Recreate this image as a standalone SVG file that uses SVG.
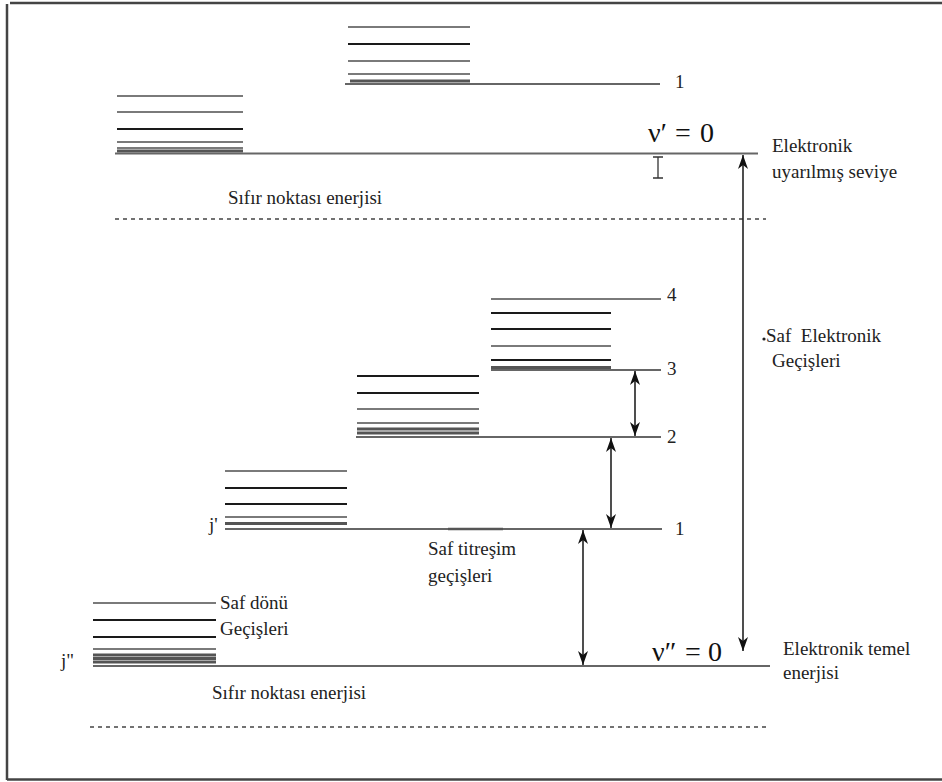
<svg xmlns="http://www.w3.org/2000/svg" width="942" height="782" viewBox="0 0 942 782">
<defs>
<marker id="ah" markerUnits="userSpaceOnUse" markerWidth="14" markerHeight="10" refX="14" refY="5" orient="auto-start-reverse">
<path d="M0,0 L14,5 L0,10 L4,5 z" fill="#111"/>
</marker>
<style>
.g{stroke:#7a7a7a;stroke-width:2.2;fill:none}
.k{stroke:#1a1a1a;stroke-width:1.8;fill:none}
.d{stroke:#555;stroke-width:2.8;fill:none}
.base{stroke:#666;stroke-width:2.2;fill:none}
.dash{stroke:#444;stroke-width:1.5;stroke-dasharray:4 4;fill:none}
.arr{stroke:#222;stroke-width:1.6;fill:none;marker-start:url(#ah);marker-end:url(#ah)}
.t{font-family:"Liberation Serif","Times New Roman",serif;font-size:19px;fill:#222}
.nu{font-family:"Liberation Serif","Times New Roman",serif;font-size:28px;fill:#111}
</style>
</defs>
<rect width="942" height="782" fill="#fff"/>
<g id="frame" stroke="#444" stroke-width="2.5" fill="none">
<line x1="10" y1="3" x2="942" y2="3"/>
<line x1="7" y1="4" x2="7" y2="780"/>
<line x1="7" y1="779.5" x2="942" y2="779.5"/>
</g>

<g id="excited-v1">
<line class="g" x1="348" y1="27" x2="470" y2="27"/>
<line class="k" x1="348" y1="44" x2="470" y2="44"/>
<line class="g" x1="348" y1="61" x2="470" y2="61"/>
<line class="g" x1="348" y1="74" x2="470" y2="74"/>
<line class="d" x1="350" y1="81" x2="470" y2="81"/>
<line class="base" x1="345" y1="84" x2="660" y2="84"/>
<text class="t" x="675" y="88">1</text>
</g>

<g id="excited-v0">
<line class="g" x1="117" y1="96" x2="243" y2="96"/>
<line class="g" x1="117" y1="112" x2="243" y2="112"/>
<line class="k" x1="117" y1="129" x2="243" y2="129"/>
<line class="g" x1="117" y1="142" x2="243" y2="142"/>
<line class="g" x1="117" y1="148" x2="243" y2="148"/>
<line class="d" x1="117" y1="151" x2="243" y2="151"/>
<line class="base" x1="115" y1="153.5" x2="758" y2="153.5"/>
<text class="nu" y="142"><tspan x="648">ν′</tspan><tspan x="675">=</tspan><tspan x="700">0</tspan></text>
<path d="M653,157 H663 M658,157 V178 M653,178 H663" stroke="#333" stroke-width="1.3" fill="none"/>
<text class="t" x="228" y="204">Sıfır noktası enerjisi</text>
<line class="dash" x1="115" y1="219" x2="766" y2="219"/>
<text class="t" x="772" y="152">Elektronik</text>
<text class="t" x="772" y="178">uyarılmış seviye</text>
</g>

<g id="ground-v4">
<line class="g" x1="491" y1="299" x2="661" y2="299"/>
<text class="t" x="667" y="301">4</text>
</g>

<g id="ground-v3">
<line class="k" x1="491" y1="313" x2="611" y2="313"/>
<line class="k" x1="491" y1="329" x2="611" y2="329"/>
<line class="g" x1="491" y1="346" x2="611" y2="346"/>
<line class="k" x1="491" y1="360" x2="611" y2="360"/>
<line class="d" x1="491" y1="367.5" x2="611" y2="367.5"/>
<line class="base" x1="491" y1="370" x2="661" y2="370"/>
<text class="t" x="667" y="375">3</text>
</g>

<g id="ground-v2">
<line class="k" x1="357" y1="376" x2="479" y2="376"/>
<line class="k" x1="357" y1="393" x2="479" y2="393"/>
<line class="g" x1="357" y1="409" x2="479" y2="409"/>
<line class="g" x1="357" y1="423" x2="479" y2="423"/>
<line class="d" x1="357" y1="429" x2="479" y2="429"/>
<line class="d" x1="357" y1="433" x2="479" y2="433"/>
<line class="base" x1="356" y1="437" x2="661" y2="437"/>
<text class="t" x="667" y="443">2</text>
</g>

<g id="ground-v1">
<line class="g" x1="225" y1="471" x2="347" y2="471"/>
<line class="k" x1="225" y1="488" x2="347" y2="488"/>
<line class="k" x1="225" y1="504" x2="347" y2="504"/>
<line class="g" x1="225" y1="517" x2="347" y2="517"/>
<line class="d" x1="225" y1="523.5" x2="347" y2="523.5"/>
<line class="base" x1="225" y1="529" x2="662" y2="529"/>
<line stroke="#555" stroke-width="2.4" x1="448" y1="529" x2="503" y2="529"/>
<text class="t" x="675" y="535">1</text>
<text class="t" x="209" y="531">j'</text>
<text class="t" x="428" y="555">Saf titreşim</text>
<text class="t" x="428" y="582">geçişleri</text>
</g>

<g id="ground-v0">
<line class="g" x1="93" y1="603" x2="216" y2="603"/>
<line class="k" x1="93" y1="620" x2="216" y2="620"/>
<line class="k" x1="93" y1="637" x2="216" y2="637"/>
<line class="g" x1="93" y1="649" x2="216" y2="649"/>
<line class="d" x1="93" y1="655" x2="216" y2="655"/>
<line class="d" x1="93" y1="658.5" x2="216" y2="658.5"/>
<line class="d" x1="93" y1="662" x2="216" y2="662"/>
<line class="base" x1="93" y1="666" x2="770" y2="666"/>
<text class="t" x="220" y="609">Saf dönü</text>
<text class="t" x="220" y="635">Geçişleri</text>
<text class="t" x="61" y="667">j"</text>
<text class="nu" y="661"><tspan x="652">ν″</tspan><tspan x="685">=</tspan><tspan x="708">0</tspan></text>
<text class="t" x="212" y="699">Sıfır noktası enerjisi</text>
<line class="dash" x1="90" y1="727" x2="769" y2="727"/>
<text class="t" x="783" y="655">Elektronik temel</text>
<text class="t" x="783" y="679">enerjisi</text>
</g>

<g id="label-electronic">
<circle cx="764" cy="339" r="1.6" fill="#222"/>
<text class="t" x="766" y="342" xml:space="preserve">Saf  Elektronik</text>
<text class="t" x="772" y="367">Geçişleri</text>
</g>

<g id="connectors">
<line class="arr" x1="635" y1="371" x2="635" y2="436"/>
<line class="arr" x1="611" y1="438" x2="611" y2="528"/>
<line class="arr" x1="583" y1="530" x2="583" y2="665"/>
<line class="arr" x1="743" y1="155" x2="743" y2="651"/>
</g>
</svg>
